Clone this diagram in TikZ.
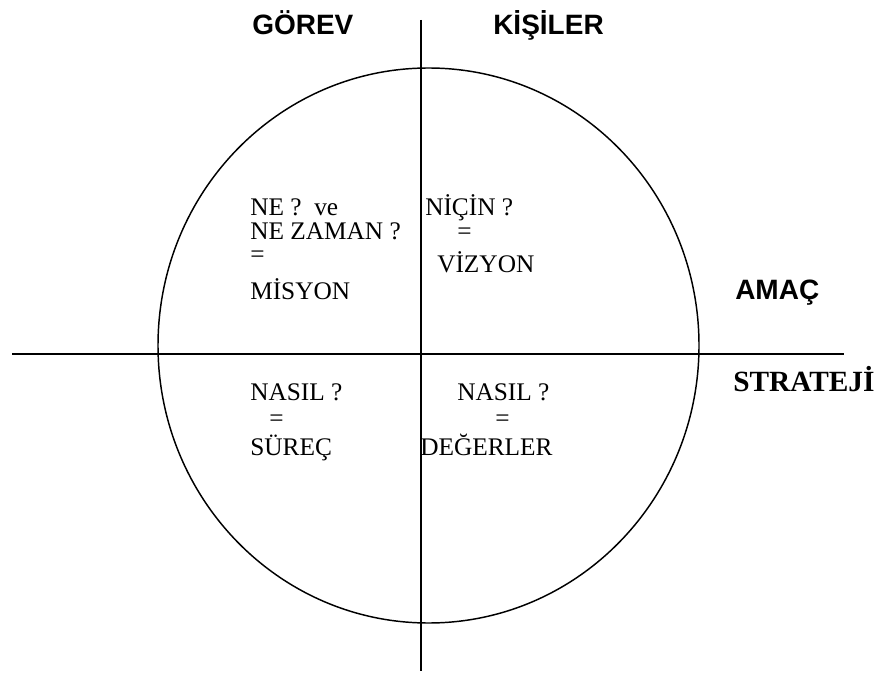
\documentclass[tikz,border=0pt]{standalone}
\usepackage{fontspec}
\setmainfont{Liberation Serif}
\newfontfamily\arialb{Liberation Sans}
\begin{document}
\begin{tikzpicture}[x=0.75pt,y=-0.75pt,
  ax/.style={line width=1.1pt},
  circ/.style={line width=1.1pt},
  head/.style={font=\arialb\bfseries\fontsize{21}{25}\selectfont, inner sep=0pt, anchor=base west},
  shead/.style={font=\bfseries\fontsize{22}{26}\selectfont, inner sep=0pt, anchor=base west},
  lbl/.style={font=\fontsize{19}{23}\selectfont, inner sep=0pt, anchor=base west,
              text height=0.7em, text depth=0.02em}]
\useasboundingbox (0,0) rectangle (881,673);
\draw[circ] (428.5,345.5) ellipse [x radius=270.5, y radius=277.5];
\coordinate (vt) at (421,20);
\coordinate (vb) at (421,671);
\coordinate (hl) at (12,354);
\coordinate (hr) at (844,354);
\draw[ax] (vt) -- (vb);
\draw[ax] (hl) -- (hr);
\node[head] (gorev) at (252,35) {GÖREV};
\node[head] (kisiler) at (493,35) {KİŞİLER};
\node[head] (amac) at (735,300) {AMAÇ};
\node[shead] (strateji) at (733,391) {STRATEJİ};
% upper left
\node[lbl] (ne) at (250,216) {NE ?\ \ ve};
\node[lbl] (nezaman) at (250,240) {NE ZAMAN ?};
\node[lbl] (eq1) at (250,263) {=};
\node[lbl] (misyon) at (250,300) {MİSYON};
% upper right
\node[lbl] (nicin) at (425,216) {NİÇİN ?};
\node[lbl] (eq2) at (457,240) {=};
\node[lbl] (vizyon) at (437,273) {VİZYON};
% lower left
\node[lbl] (nasil1) at (250,400) {NASIL ?};
\node[lbl] (eq3) at (269,426) {=};
\node[lbl] (surec) at (250,455) {SÜREÇ};
% lower right
\node[lbl] (nasil2) at (457,400) {NASIL ?};
\node[lbl] (eq4) at (495,426) {=};
\node[lbl] (degerler) at (420,455) {DEĞERLER};
\end{tikzpicture}
\end{document}
